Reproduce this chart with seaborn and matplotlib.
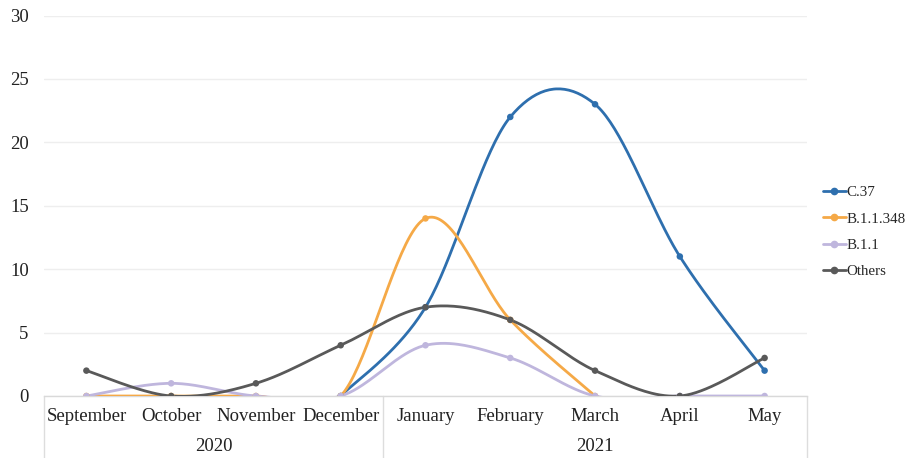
import numpy as np
import pandas as pd
import matplotlib
matplotlib.use("Agg")
import matplotlib.pyplot as plt
import matplotlib.transforms as mtransforms
from matplotlib.lines import Line2D
import seaborn as sns

# ---------------- data ----------------
months = ["September", "October", "November", "December",
          "January", "February", "March", "April", "May"]
years = ["2020", "2021"]
year_span = [4, 5]
c37 = [np.nan, np.nan, np.nan, 0, 7, 22, 23, 11, 2]
b11348 = [0, 0, 0, 0, 14, 6, 0, np.nan, np.nan]
b11 = [0, 1, 0, 0, 4, 3, 0, 0, 0]
others = [2, 0, 1, 4, 7, 6, 2, 0, 3]
series_names = ["C.37", "B.1.1.348", "B.1.1", "Others"]
series_values = [c37, b11348, b11, others]
colors = ["#2e6fae", "#f5a947", "#bfb6dd", "#595959"]
y_ticks = [0, 5, 10, 15, 20, 25, 30]

# ---------------- style ----------------
sns.set_theme(style="white")
plt.rcParams["font.family"] = ["Liberation Serif", "DejaVu Serif"]
FS = 13.5

W, H = 907, 458
fig = plt.figure(figsize=(W / 100, H / 100), dpi=100)
x0, x1 = 44, 807
y_top, y_zero = 15.5, 396
ax = fig.add_axes([x0 / W, 1 - y_zero / H, (x1 - x0) / W, (y_zero - y_top) / H])


def smooth(xs, ys, n=40):
    """Catmull-Rom (Excel-style) Bezier smoothing through the points."""
    P = np.column_stack([xs, ys]).astype(float)
    out = []
    m = len(P)
    if m == 1:
        return P
    for i in range(m - 1):
        p0 = P[i]
        p3 = P[i + 1]
        pm = P[i - 1] if i > 0 else P[i]
        pp = P[i + 2] if i + 2 < m else P[i + 1]
        c1 = p0 + (p3 - pm) / 6.0
        c2 = p3 - (pp - p0) / 6.0
        t = np.linspace(0, 1, n)[:, None]
        seg = ((1 - t) ** 3) * p0 + 3 * ((1 - t) ** 2) * t * c1 + 3 * (1 - t) * t ** 2 * c2 + t ** 3 * p3
        out.append(seg if i == 0 else seg[1:])
    return np.vstack(out)


xpos = np.arange(len(months))
for name, vals, col in zip(series_names, series_values, colors):
    vals = np.array(vals, dtype=float)
    ok = ~np.isnan(vals)
    runs = []
    cur = []
    for i in range(len(vals)):
        if ok[i]:
            cur.append(i)
        elif cur:
            runs.append(cur)
            cur = []
    if cur:
        runs.append(cur)
    for r in runs:
        pts = smooth(xpos[r], vals[r])
        df = pd.DataFrame({"x": pts[:, 0], "y": pts[:, 1]})
        sns.lineplot(data=df, x="x", y="y", ax=ax, color=col, lw=2.0,
                     sort=False, estimator=None, zorder=3)
    dfm = pd.DataFrame({"x": xpos[ok], "y": vals[ok]})
    sns.scatterplot(data=dfm, x="x", y="y", ax=ax, color=col, s=22,
                    edgecolor="none", zorder=4)

ax.set_xlim(-0.5, len(months) - 0.5)
ax.set_ylim(0, 30)
ax.set_yticks(y_ticks)
ax.set_yticklabels([str(v) for v in y_ticks], fontsize=FS, color="#222222")
ax.tick_params(axis="y", length=0, pad=11)
ax.set_xticks([])
ax.set_xlabel("")
ax.set_ylabel("")
for s in ["left", "right", "top"]:
    ax.spines[s].set_visible(False)
ax.spines["bottom"].set_color("#d9d9d9")
ax.spines["bottom"].set_linewidth(1.0)
ax.yaxis.grid(True, color="#eeeeee", lw=1.0)
ax.set_axisbelow(True)

# multi-level category axis
px = 1.0 / (y_zero - y_top)
trans = mtransforms.blended_transform_factory(ax.transData, ax.transAxes)
for i, m in enumerate(xpos):
    ax.text(m, -20.5 * px, months[i], transform=trans, ha="center", va="center",
            fontsize=FS, color="#222222")
bounds = [-0.5]
for span in year_span:
    bounds.append(bounds[-1] + span)
for j, yr in enumerate(years):
    ax.text((bounds[j] + bounds[j + 1]) / 2, -50.5 * px, yr, transform=trans,
            ha="center", va="center", fontsize=FS, color="#222222")
for b in bounds:
    ax.add_line(Line2D([b, b], [0, -64 * px], transform=trans, color="#dddddd",
                       lw=1.0, clip_on=False))

handles = [Line2D([0], [0], color=c, lw=2.0, marker="o", markersize=4.5)
           for c in colors]
fig.legend(handles, series_names, loc="center left",
           bbox_to_anchor=(817 / W, 1 - 232 / H), frameon=False,
           fontsize=10.8, handlelength=1.5, handletextpad=0.05,
           labelspacing=0.85, borderaxespad=0)

fig.savefig("out.png", dpi=100)
